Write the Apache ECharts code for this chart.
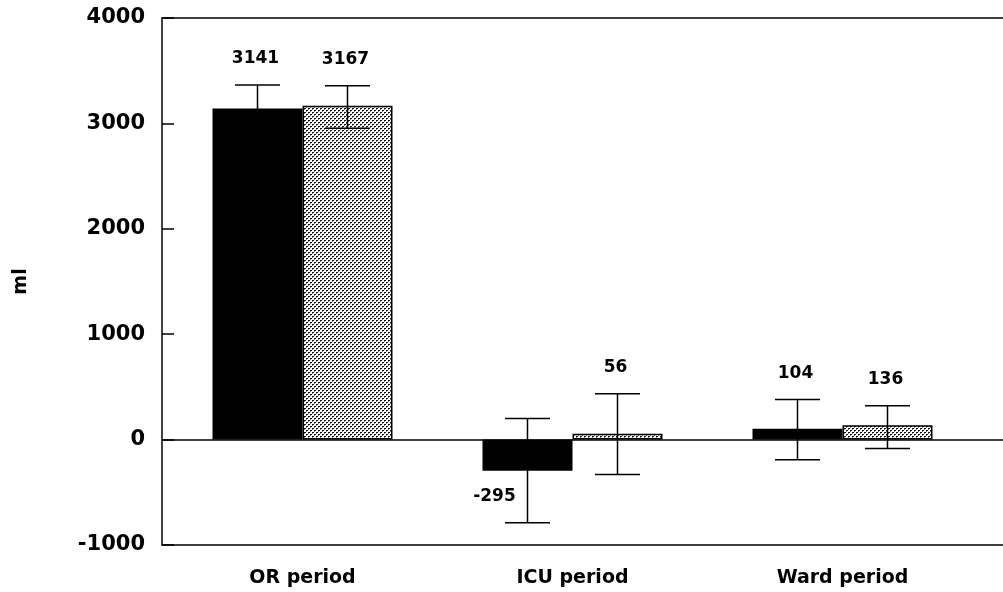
<!DOCTYPE html>
<html>
<head>
<meta charset="utf-8">
<script src="https://cdn.jsdelivr.net/npm/echarts@6/dist/echarts.min.js"></script>
<style>
html,body{margin:0;padding:0;background:#fff;}
#chart{width:1003px;height:592px;}
</style>
</head>
<body>
<div id="chart"></div>
<script>
const categories = ['OR period', 'ICU period', 'Ward period'];
const meanA = [3141, -295, 104];
const meanB = [3167, 56, 136];
const lowA = [2917, -790, -190];
const highA = [3365, 200, 380];
const lowB = [2954, -330, -85];
const highB = [3357, 436, 322];
const yMin = -1000, yMax = 4000, yInterval = 1000;
const yAxisName = 'ml';

// dotted fill pattern
const pc = document.createElement('canvas');
pc.width = 4; pc.height = 4;
const pctx = pc.getContext('2d');
pctx.fillStyle = '#ffffff'; pctx.fillRect(0, 0, 4, 4);
pctx.fillStyle = '#111111';
pctx.fillRect(0, 0, 2, 1);
pctx.fillRect(2, 2, 2, 1);
pctx.fillStyle = '#777777';
pctx.fillRect(0, 1, 1, 1);
pctx.fillRect(2, 3, 1, 1);

const BAR_W = 90;
const FONT = 'DejaVu Sans';

const errData = [];
categories.forEach((c, i) => {
  errData.push([i, lowA[i], highA[i], meanA[i], 0]);
  errData.push([i, lowB[i], highB[i], meanB[i], 1]);
});

const chart = echarts.init(document.getElementById('chart'), null, {renderer: 'canvas'});
chart.setOption({
  animation: false,
  backgroundColor: '#ffffff',
  grid: [
    {left: 162, right: 0, top: 18, bottom: 47},
    {left: 167.5, width: 810, top: 18, bottom: 47}
  ],
  xAxis: [
    {gridIndex: 0, type: 'value', min: 0, max: 1, position: 'bottom',
     axisLine: {show: true, onZero: false, lineStyle: {color: '#000', width: 1.5}},
     axisTick: {show: false}, axisLabel: {show: false}, splitLine: {show: false}},
    {gridIndex: 0, type: 'value', min: 0, max: 1, position: 'top',
     axisLine: {show: true, onZero: false, lineStyle: {color: '#000', width: 1.5}},
     axisTick: {show: false}, axisLabel: {show: false}, splitLine: {show: false}},
    {gridIndex: 1, type: 'category', data: categories,
     axisLine: {show: false}, axisTick: {show: false}, splitLine: {show: false},
     axisLabel: {color: '#000', fontFamily: FONT, fontWeight: 'bold', fontSize: 19, margin: 24}}
  ],
  yAxis: [
    {gridIndex: 0, type: 'value', min: yMin, max: yMax, interval: yInterval,
     name: yAxisName, nameLocation: 'middle', nameGap: 131,
     nameTextStyle: {color: '#000', fontFamily: FONT, fontWeight: 'bold', fontSize: 19},
     axisLine: {show: true, onZero: false, lineStyle: {color: '#000', width: 1.5}},
     axisTick: {show: true, inside: true, length: 12, lineStyle: {color: '#000', width: 1.5}},
     axisLabel: {color: '#000', fontFamily: FONT, fontWeight: 'bold', fontSize: 21, margin: 17,
       formatter: function (v) { return String(v); }},
     splitLine: {show: false}},
    {gridIndex: 1, type: 'value', min: yMin, max: yMax, show: false}
  ],
  series: [
    {type: 'line', xAxisIndex: 0, yAxisIndex: 0, data: [], silent: true,
     markLine: {silent: true, symbol: 'none', label: {show: false},
       lineStyle: {color: '#000', width: 1.5, type: 'solid'},
       data: [{yAxis: 0}]}},
    {type: 'bar', name: 'A', xAxisIndex: 2, yAxisIndex: 1, data: meanA,
     barWidth: BAR_W, barGap: '0%', itemStyle: {color: '#000'}},
    {type: 'bar', name: 'B', xAxisIndex: 2, yAxisIndex: 1, data: meanB,
     barWidth: BAR_W, barGap: '0%',
     itemStyle: {color: {image: pc, repeat: 'repeat'}, borderColor: '#000', borderWidth: 1.5}},
    {type: 'custom', xAxisIndex: 2, yAxisIndex: 1, data: errData, z: 10,
     renderItem: function (params, api) {
       const cat = api.value(0);
       const sIdx = api.value(4);
       const mean = api.value(3);
       const base = api.coord([cat, api.value(1)]);
       const cx = base[0] + (sIdx === 0 ? -BAR_W / 2 : BAR_W / 2);
       const yLow = base[1];
       const yHigh = api.coord([cat, api.value(2)])[1];
       const yMean = api.coord([cat, mean])[1];
       const hw = 22.5;
       const st = {stroke: '#000', lineWidth: 1.5};
       const children = [
         {type: 'line', shape: {x1: cx, y1: yLow, x2: cx, y2: yHigh}, style: st},
         {type: 'line', shape: {x1: cx - hw, y1: yLow, x2: cx + hw, y2: yLow}, style: st},
         {type: 'line', shape: {x1: cx - hw, y1: yHigh, x2: cx + hw, y2: yHigh}, style: st}
       ];
       let tx, ty;
       if (mean >= 0) { tx = cx - 2; ty = yHigh - 26; }
       else { tx = cx - 33; ty = yMean + 26; }
       children.push({type: 'text', style: {text: String(mean), x: tx, y: ty,
         align: 'center', verticalAlign: 'middle', fill: '#000',
         font: 'bold 17px "' + FONT + '"'}});
       return {type: 'group', children: children};
     }}
  ]
});
</script>
</body>
</html>
